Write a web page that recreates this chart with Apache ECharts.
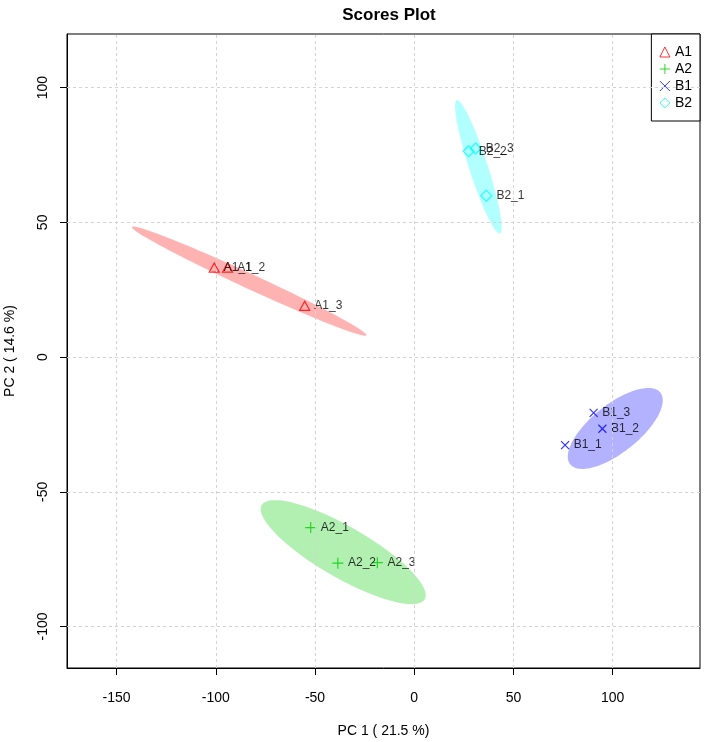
<!DOCTYPE html>
<html><head><meta charset="utf-8">
<script src="https://cdn.jsdelivr.net/npm/echarts@6/dist/echarts.min.js"></script>
<style>html,body{margin:0;padding:0;background:#fff}#c{width:705px;height:742px}</style>
</head><body><div id="c"></div>
<script>
// ---- data ----
const groups = ['A1', 'A2', 'B1', 'B2'];
const groupColors = ['#FF0000', '#00CD00', '#0000FF', '#00FFFF'];
const ellipseFills = ['rgba(255,0,0,0.3)', 'rgba(0,205,0,0.3)', 'rgba(0,0,255,0.3)', 'rgba(0,255,255,0.3)'];

const a1Names = ['A1_1', 'A1_2', 'A1_3'];
const a1X = [-100.8, -94.1, -55.2];
const a1Y = [33.2, 33.2, 19.0];

const a2Names = ['A2_1', 'A2_2', 'A2_3'];
const a2X = [-52.2, -38.5, -18.6];
const a2Y = [-63.3, -76.5, -76.3];

const b1Names = ['B1_1', 'B1_2', 'B1_3'];
const b1X = [76.0, 94.8, 90.4];
const b1Y = [-32.7, -26.6, -20.7];

const b2Names = ['B2_1', 'B2_2', 'B2_3'];
const b2X = [36.3, 27.4, 30.9];
const b2Y = [59.9, 76.4, 77.4];

// confidence ellipses: centre, first and second conjugate semi-axis vectors (data units)
const ellCX = [-83.2, -35.8, 101.3, 32.3];
const ellCY = [28.2, -72.4, -26.5, 70.6];
const ellAX = [59.1, 41.08, 22.72, 10.76];
const ellAY = [-20.1, -17.46, 13.31, -24.73];
const ellBX = [-1.59, -6.45, 7.53, 4.7];
const ellBY = [-2.53, -8.23, -6.97, 0.53];

const xTicks = [-150, -100, -50, 0, 50, 100];
const yTicks = [-100, -50, 0, 50, 100];

// ---- chart ----
const FONT = '"Liberation Sans", Arial, Helvetica, sans-serif';
const groupNames = [a1Names, a2Names, b1Names, b2Names];
const groupX = [a1X, a2X, b1X, b2X];
const groupY = [a1Y, a2Y, b1Y, b2Y];
const symbols = [
  'triangle',
  'path://M5,0L5,10M0,5L10,5',
  'path://M0,0L10,10M10,0L0,10',
  'diamond'
];
const symbolSizes = [[10, 9], 11, 8, 11];
const gridLineStyle = { color: '#d3d3d3', type: [3, 3], width: 1 };

const series = [];
// grid lines at the tick values
series.push({
  type: 'line',
  name: 'grid',
  data: [],
  silent: true,
  z: 0,
  markLine: {
    silent: true,
    symbol: ['none', 'none'],
    animation: false,
    label: { show: false },
    lineStyle: gridLineStyle,
    emphasis: { disabled: true },
    data: xTicks.map(v => ({ xAxis: v })).concat(yTicks.map(v => ({ yAxis: v })))
  }
});
groups.forEach((g, i) => {
  series.push({
    type: 'custom',
    name: g + ' ellipse',
    coordinateSystem: 'cartesian2d',
    silent: true,
    data: [[ellCX[i], ellCY[i], ellAX[i], ellAY[i], ellBX[i], ellBY[i]]],
    encode: { x: 0, y: 1 },
    renderItem: function (params, api) {
      const cx = api.value(0), cy = api.value(1);
      const ax = api.value(2), ay = api.value(3);
      const bx = api.value(4), by = api.value(5);
      const pts = [];
      const n = 120;
      for (let k = 0; k < n; k++) {
        const t = 2 * Math.PI * k / n;
        pts.push(api.coord([cx + ax * Math.cos(t) + bx * Math.sin(t),
                            cy + ay * Math.cos(t) + by * Math.sin(t)]));
      }
      return { type: 'polygon', shape: { points: pts }, style: { fill: ellipseFills[i] } };
    },
    z: 1
  });
});
groups.forEach((g, i) => {
  series.push({
    type: 'scatter',
    name: g,
    symbol: symbols[i],
    symbolSize: symbolSizes[i],
    itemStyle: { color: 'transparent', borderColor: groupColors[i], borderWidth: 1.2 },
    label: {
      show: true, position: 'right', distance: 4,
      formatter: p => p.value[2],
      color: '#000', fontSize: 12, fontFamily: FONT
    },
    data: groupX[i].map((x, k) => [x, groupY[i][k], groupNames[i][k]]),
    z: 3
  });
});

const chart = echarts.init(document.getElementById('c'), null, { renderer: 'canvas' });
chart.setOption({
  animation: false,
  backgroundColor: '#fff',
  title: {
    text: 'Scores Plot', left: 384, top: 2, textAlign: 'center',
    textStyle: { fontSize: 17, fontWeight: 'bold', color: '#000', fontFamily: FONT }
  },
  legend: {
    data: groups,
    orient: 'vertical',
    right: 5, top: 34,
    padding: [11, 8, 11, 8],
    itemWidth: 10, itemHeight: 10, itemGap: 3,
    itemStyle: { borderWidth: 1 },
    borderColor: '#000', borderWidth: 1, backgroundColor: '#fff',
    textStyle: { fontSize: 14, color: '#000', fontFamily: FONT }
  },
  grid: {
    left: 67, right: 5, top: 34, bottom: 74,
    outerBoundsMode: 'none',
    containLabel: false,
    show: true, borderColor: '#000', borderWidth: 1, backgroundColor: 'transparent'
  },
  xAxis: {
    type: 'value', min: -175, max: 144,
    name: 'PC 1 ( 21.5 %)', nameLocation: 'middle', nameGap: 56,
    nameTextStyle: { fontSize: 14, color: '#000', fontFamily: FONT },
    axisLine: { show: true, onZero: false, lineStyle: { color: '#000' } },
    axisTick: { show: true, length: 7, customValues: xTicks, lineStyle: { color: '#000' } },
    axisLabel: { customValues: xTicks, margin: 23, fontSize: 14, color: '#000', fontFamily: FONT },
    splitLine: { show: false }
  },
  yAxis: {
    type: 'value', min: -115.4, max: 119.9,
    name: 'PC 2 ( 14.6 %)', nameLocation: 'middle', nameGap: 50, nameRotate: 90,
    nameTextStyle: { fontSize: 14, color: '#000', fontFamily: FONT },
    axisLine: { show: true, onZero: false, lineStyle: { color: '#000' } },
    axisTick: { show: true, length: 7, customValues: yTicks, lineStyle: { color: '#000' } },
    axisLabel: { customValues: yTicks, rotate: 90, margin: 17, fontSize: 14, color: '#000', fontFamily: FONT },
    splitLine: { show: false }
  },
  series: series
});
</script>
</body></html>
